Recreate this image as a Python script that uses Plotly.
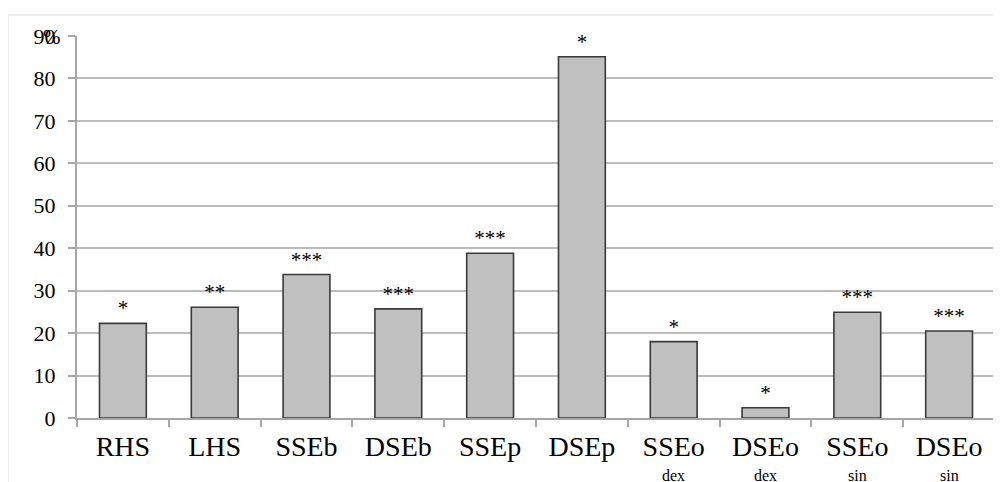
import plotly.graph_objects as go

categories = ["RHS", "LHS", "SSEb", "DSEb", "SSEp", "DSEp",
              "SSEo dex", "DSEo dex", "SSEo sin", "DSEo sin"]
main_labels = ["RHS", "LHS", "SSEb", "DSEb", "SSEp", "DSEp",
               "SSEo", "DSEo", "SSEo", "DSEo"]
sub_labels = ["", "", "", "", "", "", "dex", "dex", "sin", "sin"]
values = [22.3, 26.1, 33.8, 25.7, 38.8, 85.1, 18.0, 2.4, 24.9, 20.5]
stars = ["*", "**", "***", "***", "***", "*", "*", "*", "***", "***"]
y_ticks = [0, 10, 20, 30, 40, 50, 60, 70, 80, 90]

SERIF = "Liberation Serif"

fig = go.Figure()
fig.add_trace(go.Bar(
    x=categories, y=values,
    marker=dict(color="#c0c0c0", line=dict(color="#3a3a3a", width=1.6)),
    text=stars, textposition="outside",
    textfont=dict(family=SERIF, size=21, color="#000000"),
    cliponaxis=False, hoverinfo="skip",
))

for c, s in zip(categories, sub_labels):
    if s:
        fig.add_annotation(x=c, y=0, xref="x", yref="paper", text=s,
                           showarrow=False, yanchor="top", yshift=-47,
                           font=dict(family=SERIF, size=16, color="#000000"))

fig.add_annotation(x=0, y=1, xref="paper", yref="paper", text="%",
                   showarrow=False, xanchor="right", yanchor="middle",
                   xshift=-14, yshift=-1,
                   font=dict(family=SERIF, size=21, color="#000000"))

fig.add_shape(type="rect", xref="paper", yref="paper",
              x0=-0.0752, x1=1.02, y0=-0.25, y1=1.055,
              line=dict(color="#d9d9d9", width=1), fillcolor="rgba(0,0,0,0)",
              layer="below")

fig.update_layout(
    width=993, height=474,
    margin=dict(l=69, r=6, t=28, b=64, autoexpand=False),
    paper_bgcolor="white", plot_bgcolor="white",
    bargap=0.49, showlegend=False,
    xaxis=dict(
        type="category", tickvals=categories, ticktext=main_labels,
        tickson="boundaries", ticks="outside", ticklen=7,
        tickcolor="#a6a6a6", tickwidth=1.5,
        showline=True, linecolor="#a6a6a6", linewidth=2,
        showgrid=False, ticklabelstandoff=2,
        tickfont=dict(family=SERIF, size=28, color="#000000"),
    ),
    yaxis=dict(
        range=[0, 90], tickvals=y_ticks, ticks="outside", ticklen=7,
        tickcolor="#a6a6a6", tickwidth=1.5,
        showline=True, linecolor="#a6a6a6", linewidth=2,
        showgrid=True, gridcolor="#bcbcbc", gridwidth=1.5,
        zeroline=False, ticklabelstandoff=8,
        tickfont=dict(family=SERIF, size=22, color="#000000"),
    ),
)

fig.write_html("out.html")
